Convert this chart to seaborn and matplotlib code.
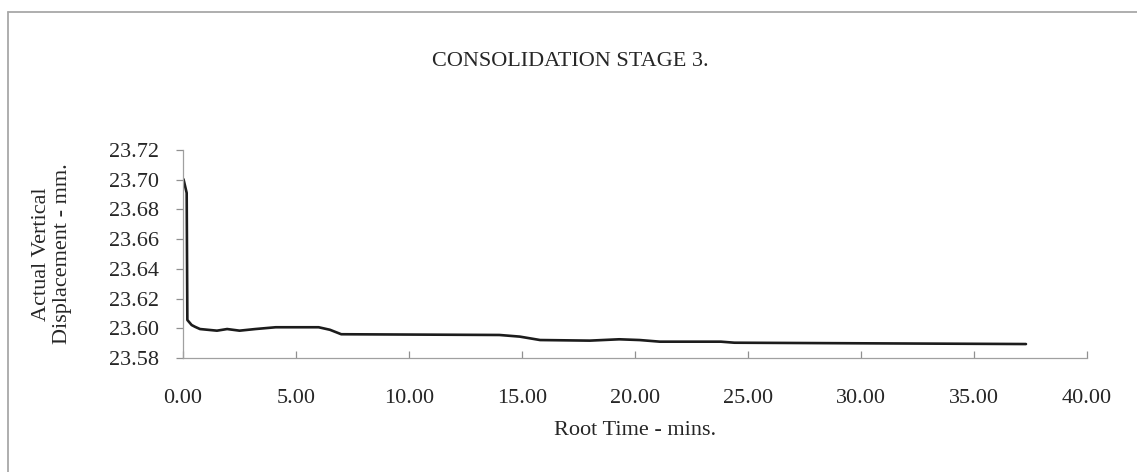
import matplotlib
matplotlib.use("Agg")
import matplotlib.pyplot as plt
import seaborn as sns
import pandas as pd
from matplotlib.lines import Line2D

root_time = [0.02, 0.16, 0.19, 0.38, 0.53, 0.75, 1.5, 1.95, 2.5, 3.2, 4.1, 6.0, 6.5, 7.0,
             14.0, 14.9, 15.8, 18.0, 19.3, 20.2, 21.1, 23.8, 24.4, 30.0, 37.3]
displacement = [23.7003, 23.6911, 23.6056, 23.6022, 23.6010, 23.5995, 23.5984, 23.5995, 23.5984,
                23.5995, 23.6007, 23.6007, 23.5990, 23.5960,
                23.5955, 23.5944, 23.5921, 23.5917, 23.5926, 23.5921, 23.5910, 23.5910, 23.5903,
                23.5899, 23.5894]

title = "CONSOLIDATION STAGE 3."
xlabel = "Root Time - mins."
ylabel = "Actual Vertical\nDisplacement - mm."
xticks = [0, 5, 10, 15, 20, 25, 30, 35, 40]
yticks = [23.58, 23.60, 23.62, 23.64, 23.66, 23.68, 23.70, 23.72]

sns.set_theme(style="white")
plt.rcParams['font.family'] = ['Liberation Serif', 'DejaVu Serif']

df = pd.DataFrame({"t": root_time, "d": displacement})

fig = plt.figure(figsize=(11.37, 4.72), dpi=100)
ax = fig.add_axes([0.161, 0.2415, 0.795, 0.4407])
sns.lineplot(data=df, x="t", y="d", ax=ax, color="#1c1c1c", linewidth=1.9)

ax.set_xlim(0, 40)
ax.set_ylim(23.58, 23.72)
ax.set_xticks(xticks)
ax.set_xticklabels([f"{v:.2f}" for v in xticks], fontsize=16)
ax.set_yticks(yticks)
ax.set_yticklabels([f"{v:.2f}" for v in yticks], fontsize=16)
for s in ["top", "right"]:
    ax.spines[s].set_visible(False)
for s in ["left", "bottom"]:
    ax.spines[s].set_color("#a0a0a0")
    ax.spines[s].set_linewidth(0.9)
ax.tick_params(axis="both", bottom=True, left=True, length=5, width=0.9,
               color="#909090", labelcolor="#262626")
ax.tick_params(axis="y", direction="out", pad=12)
ax.tick_params(axis="x", direction="in", pad=22)
ax.set_xlabel(xlabel, fontsize=16, color="#262626")
ax.xaxis.set_label_coords(0.5, -0.35)
ax.xaxis.label.set_va("center")
ax.set_ylabel("")

fig.text(0.0457, 0.462, ylabel, rotation=90, ha="center", va="center",
         fontsize=16, color="#262626", linespacing=1.1, multialignment="center")
fig.text(0.502, 0.869, title, ha="center", va="center", fontsize=16, color="#262626")

fig.lines.append(Line2D([0.007, 0.007], [0.0, 0.975], transform=fig.transFigure,
                        color="#a8a8a8", linewidth=1.3))
fig.lines.append(Line2D([0.007, 1.0], [0.975, 0.975], transform=fig.transFigure,
                        color="#a8a8a8", linewidth=1.3))

fig.savefig("out.png", dpi=100, facecolor="white")
